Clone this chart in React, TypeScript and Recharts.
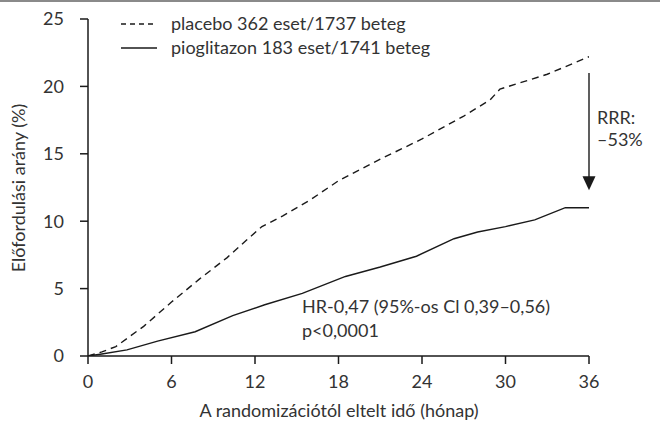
import * as React from 'react';
import { LineChart, Line, XAxis, YAxis, ReferenceLine, ReferenceDot } from 'recharts';

// months since randomisation / cumulative incidence (%)
const placeboMonths = [0, 1, 2, 4, 6, 8, 10, 11.5, 12.5, 14, 16, 18, 21, 24, 27, 28.9, 29.6, 33, 36];
const placeboValues = [0, 0.3, 0.7, 2.2, 4.0, 5.7, 7.3, 8.7, 9.6, 10.4, 11.6, 13.0, 14.6, 16.1, 17.8, 19.0, 19.8, 20.9, 22.2];

const pioMonths = [0, 1, 2.8, 5, 7.7, 10.4, 12.7, 15.4, 18.5, 21, 23.6, 26.3, 28, 30, 32.1, 34.3, 36];
const pioValues = [0, 0.15, 0.45, 1.1, 1.8, 3.0, 3.8, 4.65, 5.9, 6.6, 7.4, 8.7, 9.2, 9.6, 10.1, 11.0, 11.0];

const xTicks = [0, 6, 12, 18, 24, 30, 36];
const yTicks = [0, 5, 10, 15, 20, 25];

const placeboLabel = 'placebo 362 eset/1737 beteg';
const pioLabel = 'pioglitazon 183 eset/1741 beteg';
const xTitle = 'A randomizációtól eltelt idő (hónap)';
const yTitle = 'Előfordulási arány (%)';
const hrText = 'HR-0,47 (95%-os Cl 0,39–0,56)';
const pText = 'p<0,0001';
const rrrText = ['RRR:', '–53%'];

// arrow from placebo end down to pioglitazon end
const arrowFrom = 21.0;
const arrowTo = 13.2;
const arrowTip = 12.3;

const placeboData = placeboMonths.map((m, i) => ({ m, v: placeboValues[i] }));
const pioData = pioMonths.map((m, i) => ({ m, v: pioValues[i] }));

const FONT = 'Lato, "Open Sans", sans-serif';
const FS = 18;
const INK = '#1a1a1a';
const TXT = '#333';

const ArrowHead = (props: any) => {
  const { cx, cy } = props;
  if (cx == null || cy == null) return null;
  return <path d={`M${cx - 6.5},${cy - 14} L${cx + 6.5},${cy - 14} L${cx},${cy} Z`} fill={INK} />;
};

const App = () => {
  return (
    <div style={{ position: 'absolute', left: 0, top: 0, width: 660, height: 426, background: '#fff' }}>
      <LineChart
        width={660}
        height={426}
        margin={{ top: 19, right: 71, left: 0, bottom: 0 }}
        style={{ fontFamily: FONT }}
      >
        <XAxis
          dataKey="m"
          type="number"
          domain={[0, 36]}
          ticks={xTicks}
          height={70}
          tickSize={8}
          tickMargin={11}
          axisLine={{ stroke: INK, strokeWidth: 1.5 }}
          tickLine={{ stroke: INK, strokeWidth: 1.5 }}
          tick={{ fill: TXT, fontSize: FS, fontFamily: FONT }}
          allowDataOverflow
        />
        <YAxis
          type="number"
          domain={[0, 25]}
          ticks={yTicks}
          width={88}
          tickSize={8}
          tickMargin={16}
          axisLine={{ stroke: INK, strokeWidth: 1.5 }}
          tickLine={{ stroke: INK, strokeWidth: 1.5 }}
          tick={{ fill: TXT, fontSize: FS, fontFamily: FONT }}
          allowDataOverflow
        />
        <Line
          data={placeboData}
          dataKey="v"
          type="linear"
          stroke={INK}
          strokeWidth={1.4}
          strokeDasharray="7 5"
          dot={false}
          activeDot={false}
          isAnimationActive={false}
        />
        <Line
          data={pioData}
          dataKey="v"
          type="linear"
          stroke={INK}
          strokeWidth={1.4}
          dot={false}
          activeDot={false}
          isAnimationActive={false}
        />
        <ReferenceLine
          segment={[{ x: 36, y: arrowFrom }, { x: 36, y: arrowTo }]}
          stroke={INK}
          strokeWidth={1.4}
          ifOverflow="visible"
        />
        <ReferenceDot x={36} y={arrowTip} shape={ArrowHead} ifOverflow="visible" />

        <line x1={0} y1={1} x2={660} y2={1} stroke="#8a8a8a" strokeWidth={2} />

        <line x1={121} y1={24} x2={157} y2={24} stroke={INK} strokeWidth={1.4} strokeDasharray="5 4" />
        <text x={171} y={30} fontSize={FS} fill={TXT} fontFamily={FONT}>{placeboLabel}</text>
        <line x1={121} y1={48} x2={157} y2={48} stroke={INK} strokeWidth={1.4} />
        <text x={171} y={54} fontSize={FS} fill={TXT} fontFamily={FONT}>{pioLabel}</text>

        <text x={302} y={313} fontSize={FS} fill={TXT} fontFamily={FONT}>{hrText}</text>
        <text x={302} y={337} fontSize={FS} fill={TXT} fontFamily={FONT}>{pText}</text>
        <text x={597} y={124} fontSize={FS} fill={TXT} fontFamily={FONT}>{rrrText[0]}</text>
        <text x={597} y={146} fontSize={FS} fill={TXT} fontFamily={FONT}>{rrrText[1]}</text>

        <text x={339} y={417} fontSize={FS} fill={TXT} fontFamily={FONT} textAnchor="middle">{xTitle}</text>
        <text
          x={18}
          y={188}
          fontSize={FS}
          fill={TXT}
          fontFamily={FONT}
          textAnchor="middle"
          dominantBaseline="central"
          transform="rotate(-90 18 188)"
        >
          {yTitle}
        </text>
      </LineChart>
    </div>
  );
};

export default App;
